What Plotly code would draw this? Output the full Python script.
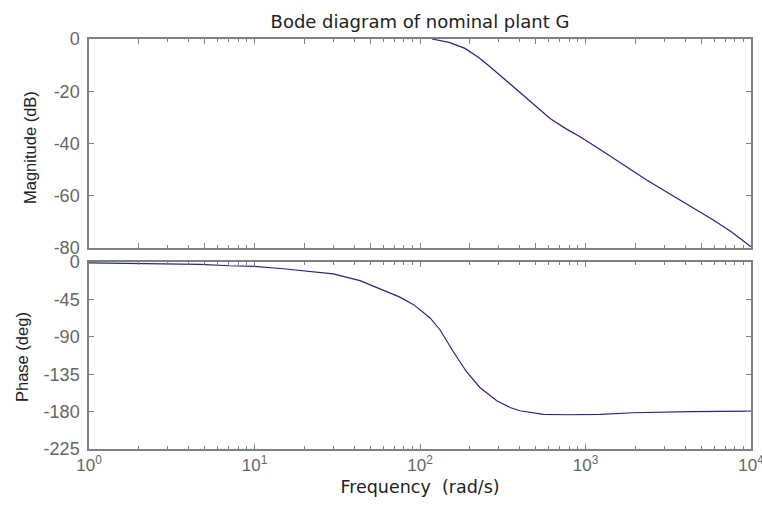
import plotly.graph_objects as go

# Magnitude (dB)
mag_freq = [118, 150, 187, 225, 265, 330, 402, 500, 611, 760, 927, 1180, 1472, 1850, 2342, 2950, 3726, 4700, 5918, 7600, 10000]
mag_db = [0.0, -1.3, -3.6, -7.0, -10.6, -15.8, -20.8, -25.8, -30.4, -34.3, -37.4, -41.6, -45.7, -49.8, -54.0, -57.8, -61.6, -65.4, -69.3, -73.8, -79.5]

# Phase (deg)
ph_freq = [1, 2, 3, 4.7, 7, 10, 14.9, 20, 29.9, 43.4, 57.3, 75, 91, 115, 132, 159, 191, 230, 291, 350, 402, 556, 800, 1225, 1946, 4281, 10000]
ph_deg = [-1.0, -1.6, -2.2, -2.8, -4.5, -5.3, -8.1, -10.5, -14.2, -22.4, -32.6, -42.0, -51.0, -67.3, -81.5, -108.0, -132.0, -151.0, -167.0, -175.0, -179.0, -183.4, -183.8, -183.4, -181.4, -180.0, -179.5]

mag_ticks = [0, -20, -40, -60, -80]
mag_labels = ["0", "-20", "-40", "-60", "-80"]
ph_ticks = [0, -45, -90, -135, -180, -225]
ph_labels = ["0", "-45", "-90", "-135", "-180", "-225"]
freq_ticks = [1, 10, 100, 1000, 10000]
freq_labels = ["10<sup>0</sup>", "10<sup>1</sup>", "10<sup>2</sup>", "10<sup>3</sup>", "10<sup>4</sup>"]

LINE = "#26267f"
AX = "#808080"
TXT = "#666666"
FONT = "Liberation Sans"
WIDE = "DejaVu Sans"
NARROW = "Liberation Sans Narrow, Liberation Sans"

fig = go.Figure()
fig.add_trace(go.Scatter(x=mag_freq, y=mag_db, mode="lines",
                         line=dict(color=LINE, width=1.2), xaxis="x", yaxis="y",
                         showlegend=False))
fig.add_trace(go.Scatter(x=ph_freq, y=ph_deg, mode="lines",
                         line=dict(color=LINE, width=1.2), xaxis="x2", yaxis="y2",
                         showlegend=False))

common_x = dict(type="log", range=[0, 4], showline=True, linecolor=AX, linewidth=1.5,
                mirror="allticks", ticks="inside", ticklen=5, tickcolor=AX,
                showgrid=False, zeroline=False, automargin=False,
                ticklabeloverflow="allow",
                minor=dict(ticks="inside", ticklen=3, tickcolor=AX, dtick="D1", showgrid=False))
common_y = dict(showline=True, linecolor=AX, linewidth=1.5, mirror="allticks",
                ticks="inside", ticklen=5, tickcolor=AX, showgrid=False, zeroline=False,
                automargin=False, ticklabelstandoff=4,
                tickfont=dict(family=FONT, size=18, color=TXT))

fig.update_layout(
    width=762, height=505,
    margin=dict(l=89, r=11, t=39, b=56, autoexpand=False),
    paper_bgcolor="white", plot_bgcolor="white",
    font=dict(family=FONT, color="#222222"),
    title=dict(text="Bode diagram of nominal plant G", x=0.5, xref="paper",
               y=1 - 22 / 505, yanchor="middle", font=dict(family=WIDE, size=18, color="#222222")),
    xaxis=dict(**common_x, domain=[0, 1], anchor="y", showticklabels=False, matches="x2"),
    yaxis=dict(**common_y, domain=[0.4902, 1], range=[-80, 0], tickvals=mag_ticks, ticktext=mag_labels),
    xaxis2=dict(**common_x, domain=[0, 1], anchor="y2", tickvals=freq_ticks, ticktext=freq_labels,
                tickfont=dict(family=FONT, size=17, color=TXT),
                title=dict(text="Frequency  (rad/s)", font=dict(family=WIDE, size=17.5, color="#222222"), standoff=7)),
    yaxis2=dict(**common_y, domain=[0, 0.4561], range=[-225, 0], tickvals=ph_ticks, ticktext=ph_labels),
    annotations=[
        dict(text="Magnitude (dB)", textangle=-90, xref="paper", yref="paper",
             x=-59 / 662, y=(449 - 148) / 410, xanchor="center", yanchor="middle", showarrow=False,
             font=dict(family=NARROW, size=16.5, color="#222222")),
        dict(text="Phase (deg)", textangle=-90, xref="paper", yref="paper",
             x=-67 / 662, y=(449 - 357) / 410, xanchor="center", yanchor="middle", showarrow=False,
             font=dict(family=NARROW, size=16.5, color="#222222")),
    ],
)

fig.write_html("out.html", config={"displayModeBar": False},
               post_script="document.body.style.margin='0';document.body.style.overflow='hidden';")
